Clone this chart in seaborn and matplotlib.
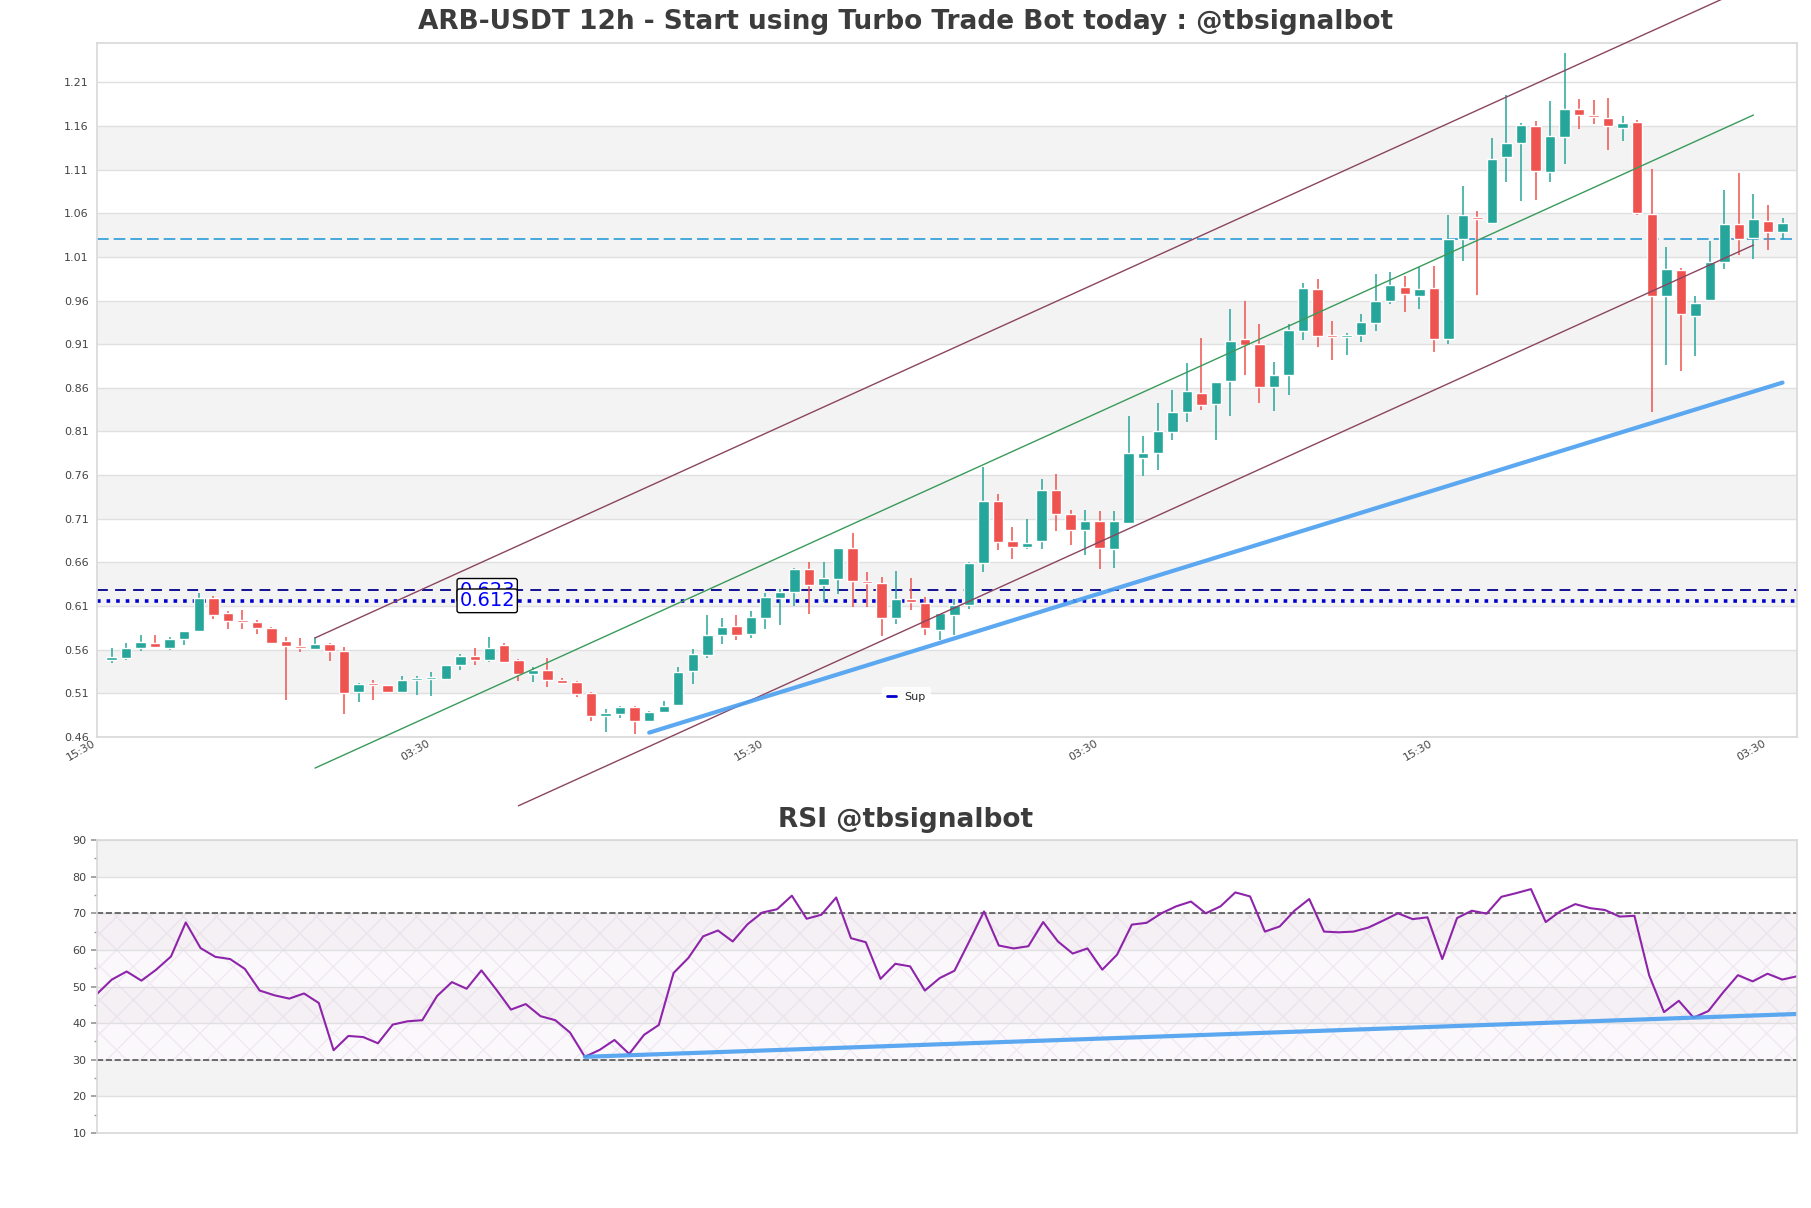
import numpy as np
import seaborn as sns
import matplotlib
matplotlib.use("Agg")
import matplotlib.pyplot as plt
from matplotlib.lines import Line2D

sns.set_theme(style="whitegrid")
plt.rcParams['font.family'] = ['DejaVu Sans']

######## data (12h candles) ########
opens = [0.548, 0.551, 0.562, 0.568, 0.562, 0.572, 0.581, 0.619, 0.602, 0.593,
         0.592, 0.585, 0.570, 0.564, 0.561, 0.567, 0.559, 0.511, 0.520, 0.520,
         0.512, 0.525, 0.526, 0.527, 0.542, 0.553, 0.548, 0.565, 0.548, 0.532,
         0.537, 0.525, 0.523, 0.510, 0.484, 0.486, 0.494, 0.478, 0.489, 0.497,
         0.536, 0.554, 0.577, 0.587, 0.578, 0.596, 0.619, 0.626, 0.652, 0.634,
         0.641, 0.677, 0.639, 0.636, 0.596, 0.618, 0.614, 0.583, 0.600, 0.611,
         0.659, 0.730, 0.684, 0.678, 0.684, 0.743, 0.715, 0.697, 0.707, 0.675,
         0.705, 0.780, 0.785, 0.809, 0.832, 0.854, 0.842, 0.868, 0.916, 0.910,
         0.861, 0.875, 0.925, 0.973, 0.920, 0.918, 0.921, 0.934, 0.960, 0.976,
         0.965, 0.974, 0.916, 1.030, 1.056, 1.049, 1.124, 1.141, 1.160, 1.107,
         1.147, 1.179, 1.173, 1.169, 1.158, 1.165, 1.059, 0.965, 0.995, 0.942,
         0.961, 1.004, 1.048, 1.032, 1.051, 1.039]
highs = [0.562, 0.568, 0.577, 0.577, 0.575, 0.582, 0.625, 0.622, 0.604, 0.606,
         0.594, 0.586, 0.575, 0.573, 0.575, 0.568, 0.563, 0.522, 0.525, 0.520,
         0.530, 0.530, 0.534, 0.543, 0.555, 0.562, 0.575, 0.568, 0.549, 0.540,
         0.550, 0.528, 0.524, 0.511, 0.492, 0.496, 0.496, 0.490, 0.501, 0.540,
         0.561, 0.600, 0.596, 0.600, 0.604, 0.625, 0.629, 0.654, 0.661, 0.660,
         0.677, 0.694, 0.649, 0.643, 0.650, 0.642, 0.620, 0.602, 0.618, 0.660,
         0.769, 0.738, 0.701, 0.710, 0.755, 0.761, 0.720, 0.720, 0.719, 0.719,
         0.828, 0.805, 0.843, 0.858, 0.888, 0.917, 0.867, 0.950, 0.960, 0.933,
         0.890, 0.933, 0.980, 0.985, 0.936, 0.923, 0.945, 0.990, 0.993, 0.988,
         0.998, 1.000, 1.058, 1.091, 1.062, 1.146, 1.195, 1.163, 1.166, 1.188,
         1.244, 1.191, 1.190, 1.192, 1.171, 1.167, 1.111, 1.021, 0.997, 0.965,
         1.028, 1.087, 1.106, 1.082, 1.070, 1.054]
lows = [0.545, 0.548, 0.559, 0.562, 0.560, 0.565, 0.580, 0.595, 0.584, 0.584,
        0.578, 0.566, 0.502, 0.557, 0.560, 0.547, 0.486, 0.500, 0.502, 0.510,
        0.512, 0.508, 0.507, 0.525, 0.537, 0.543, 0.546, 0.545, 0.524, 0.523,
        0.517, 0.521, 0.506, 0.478, 0.466, 0.482, 0.464, 0.478, 0.487, 0.497,
        0.521, 0.550, 0.566, 0.571, 0.573, 0.584, 0.588, 0.610, 0.601, 0.615,
        0.624, 0.609, 0.609, 0.576, 0.589, 0.606, 0.577, 0.571, 0.577, 0.607,
        0.649, 0.674, 0.664, 0.675, 0.675, 0.696, 0.680, 0.669, 0.653, 0.654,
        0.705, 0.759, 0.766, 0.800, 0.821, 0.835, 0.800, 0.828, 0.875, 0.843,
        0.833, 0.852, 0.915, 0.907, 0.892, 0.898, 0.913, 0.925, 0.956, 0.947,
        0.950, 0.901, 0.910, 1.005, 0.966, 1.048, 1.096, 1.074, 1.075, 1.096,
        1.116, 1.156, 1.162, 1.133, 1.143, 1.058, 0.832, 0.886, 0.879, 0.896,
        0.961, 0.996, 1.012, 1.007, 1.018, 1.031]
closes = [0.552, 0.562, 0.569, 0.563, 0.572, 0.582, 0.619, 0.600, 0.593, 0.592,
          0.585, 0.568, 0.564, 0.562, 0.567, 0.558, 0.510, 0.521, 0.519, 0.512,
          0.525, 0.527, 0.528, 0.542, 0.553, 0.548, 0.562, 0.546, 0.532, 0.537,
          0.525, 0.522, 0.509, 0.484, 0.488, 0.494, 0.478, 0.489, 0.496, 0.535,
          0.555, 0.577, 0.586, 0.577, 0.597, 0.620, 0.626, 0.652, 0.634, 0.642,
          0.676, 0.639, 0.636, 0.596, 0.618, 0.615, 0.585, 0.602, 0.611, 0.659,
          0.730, 0.683, 0.678, 0.682, 0.743, 0.716, 0.697, 0.708, 0.676, 0.707,
          0.785, 0.785, 0.811, 0.832, 0.856, 0.840, 0.867, 0.914, 0.909, 0.861,
          0.875, 0.926, 0.974, 0.919, 0.918, 0.921, 0.935, 0.959, 0.978, 0.967,
          0.973, 0.916, 1.031, 1.058, 1.053, 1.122, 1.141, 1.161, 1.108, 1.148,
          1.179, 1.172, 1.170, 1.160, 1.163, 1.060, 0.965, 0.996, 0.944, 0.957,
          1.004, 1.048, 1.031, 1.053, 1.039, 1.049]
rsi = [48.0, 51.9, 54.1, 51.6, 54.6, 58.2, 67.5, 60.5, 58.1, 57.5,
       54.8, 48.9, 47.6, 46.7, 48.1, 45.5, 32.6, 36.5, 36.2, 34.5,
       39.6, 40.5, 40.8, 47.4, 51.2, 49.4, 54.4, 49.2, 43.7, 45.2,
       41.9, 40.8, 37.4, 30.8, 32.7, 35.4, 31.6, 36.8, 39.5, 53.7,
       57.8, 63.7, 65.3, 62.3, 67.0, 70.2, 71.1, 74.8, 68.5, 69.6,
       74.3, 63.2, 62.1, 52.1, 56.2, 55.5, 48.9, 52.3, 54.3, 62.3,
       70.5, 61.2, 60.4, 61.0, 67.6, 62.3, 59.0, 60.4, 54.6, 58.7,
       66.9, 67.4, 70.0, 71.9, 73.2, 70.0, 71.9, 75.7, 74.6, 65.0,
       66.4, 70.7, 73.9, 65.0, 64.8, 65.0, 66.1, 68.0, 70.0, 68.4,
       68.9, 57.5, 68.7, 70.7, 69.9, 74.5, 75.5, 76.6, 67.6, 70.6,
       72.5, 71.4, 70.9, 69.1, 69.3, 53.0, 43.0, 46.1, 41.5, 43.3,
       48.4, 53.1, 51.4, 53.5, 51.9, 52.8]

# channel (start/end candle index, price)
chan_x = [14, 113]
chan_mid = [0.4244, 1.1725]
chan_up = [0.5735, 1.3216]
chan_lo_x = [28, 113]
chan_lo = [0.3812, 1.0235]
sup_x = [37, 115]
sup_y = [0.465, 0.866]
rsi_sup_x = [33, 115]
rsi_sup_y = [30.8, 42.5]
levels = [0.628, 0.616]          # where the lines sit on the chart
level_labels = ['0.623', '0.612']  # what the boxes say
resist = 1.03
xtick_pos = [-1, 22, 45, 68, 91, 114]
xtick_lab = ['15:30', '03:30', '15:30', '03:30', '15:30', '03:30']
##############################

n = len(closes)
idx = np.arange(n)
o = np.array(opens); c = np.array(closes)
up = c >= o
cols = np.where(up, '#26a69a', '#ef5350')
bottoms = np.minimum(o, c)
heights = np.maximum(np.abs(c - o), 0.0025)

fig = plt.figure(figsize=(18.11, 12.08), dpi=100)
ax = fig.add_axes([0.0536, 0.3899, 0.9387, 0.5745])
ax2 = fig.add_axes([0.0536, 0.0621, 0.9387, 0.2425])

# ---- price panel ----
for lo in np.arange(0.51, 1.12, 0.10):
    ax.axhspan(lo, lo + 0.05, color='#f3f3f3', zorder=0, lw=0)
ax.vlines(idx, lows, highs, colors=cols, lw=1.1, zorder=2.5)
ax.bar(idx, heights, bottom=bottoms, width=0.72, color=cols, zorder=3)

ax.plot(chan_x, chan_up, color='#8b4560', lw=1, clip_on=False, zorder=4)
ax.plot(chan_x, chan_mid, color='#3a9a5b', lw=1, clip_on=False, zorder=4)
ax.plot(chan_lo_x, chan_lo, color='#8b4560', lw=1, clip_on=False, zorder=4)
ax.plot(sup_x, sup_y, color='#4a9ff0', lw=3, alpha=0.9, zorder=4)

ax.axhline(resist, color='#2a9bd8', ls=(0, (7, 3)), lw=1.2, zorder=2)
ax.axhline(levels[0], color='#00008b', ls=(0, (6, 4)), lw=1.3, zorder=2)
ax.axhline(levels[1], color='#0000cd', ls=':', lw=2.6, zorder=2)
for lv, lab in zip(levels, level_labels):
    ax.annotate(lab, xy=(25.85, lv), xytext=(0, 0), textcoords='offset points',
                ha='center', va='center', color='blue', fontsize=14, zorder=6,
                bbox=dict(boxstyle='round,pad=0.12', fc='white', ec='black', lw=1))

ax.set_xlim(-1, n)
ax.set_ylim(0.46, 1.255)
ax.set_yticks(np.round(np.arange(0.46, 1.22, 0.05), 2))
ax.yaxis.set_major_formatter(matplotlib.ticker.FormatStrFormatter('%.2f'))
ax.set_xticks(xtick_pos)
ax.set_xticklabels(xtick_lab, rotation=30, ha='right')
ax.tick_params(axis='both', length=0, labelsize=8, labelcolor='#444444', pad=6)
ax.tick_params(axis='x', pad=1)
ax.grid(axis='y', color='#e0e0e0', lw=1)
ax.grid(axis='x', visible=False)
ax.set_axisbelow(True)
for sp in ax.spines.values():
    sp.set_color('#d9d9d9')
leg = ax.legend(handles=[Line2D([], [], color='#0000cd', lw=2)], labels=['Sup'],
                loc='center', bbox_to_anchor=(0.476, 0.058), fontsize=8,
                handlelength=0.8, frameon=True, facecolor='white', edgecolor='white')

# ---- RSI panel ----
for lo in [20, 40, 60, 80]:
    ax2.axhspan(lo, lo + 10, color='#f3f3f3', zorder=0, lw=0)
ax2.axhspan(30, 70, facecolor='#f6ecf8', edgecolor='#dccbe0', hatch='x', alpha=0.35, lw=0, zorder=0.5)
ax2.axhline(70, color='#555555', ls='--', lw=1.2)
ax2.axhline(30, color='#555555', ls='--', lw=1.2)
sns.lineplot(x=idx, y=rsi, ax=ax2, color='#8e24aa', lw=1.5)
ax2.plot(rsi_sup_x, rsi_sup_y, color='#4a9ff0', lw=3, alpha=0.9)
ax2.set_xlim(0, n - 1)
ax2.set_ylim(10, 90)
ax2.set_yticks(range(10, 91, 10))
ax2.yaxis.set_minor_locator(matplotlib.ticker.MultipleLocator(5))
ax2.set_xticks([])
ax2.set_xlabel('')
ax2.set_ylabel('')
ax2.tick_params(axis='y', which='major', left=True, length=4, color='#999999', labelsize=8, labelcolor='#444444')
ax2.tick_params(axis='y', which='minor', left=True, length=2, color='#999999')
ax2.grid(axis='y', color='#e0e0e0', lw=1)
ax2.grid(axis='x', visible=False)
for sp in ax2.spines.values():
    sp.set_color('#d9d9d9')

fig.text(0.5, 0.982, 'ARB-USDT 12h - Start using Turbo Trade Bot today : @tbsignalbot',
         ha='center', va='center', fontsize=19, fontweight='bold', color='#3c3c3c')
fig.text(0.5, 0.3212, 'RSI @tbsignalbot', ha='center', va='center',
         fontsize=19, fontweight='bold', color='#3c3c3c')

fig.savefig('out.png', dpi=100)
